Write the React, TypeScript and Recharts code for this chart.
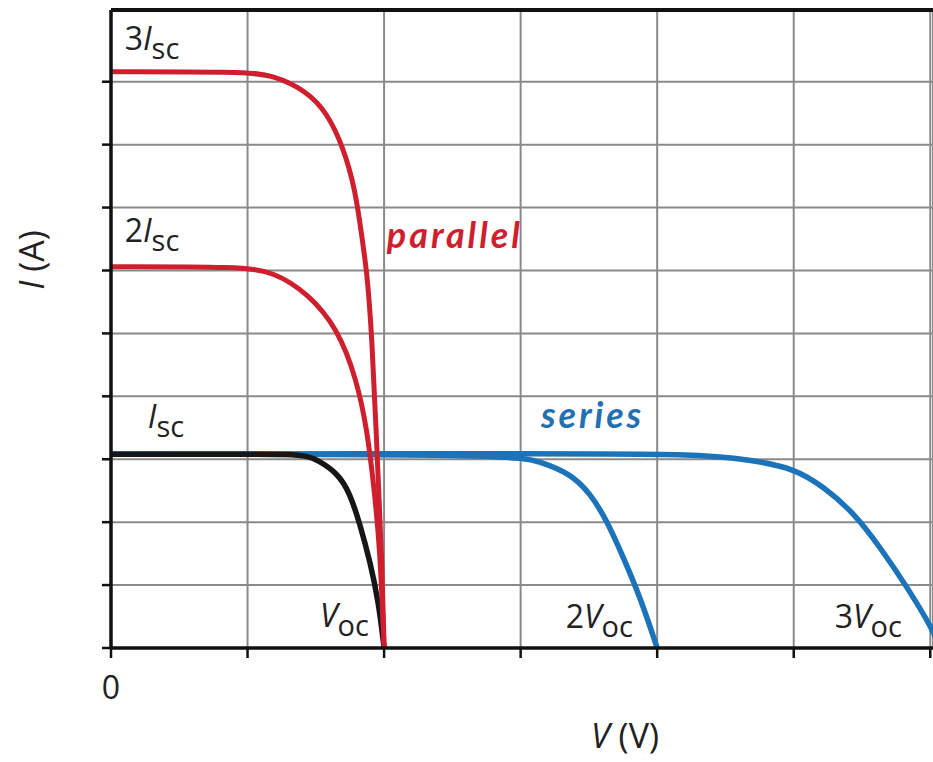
import { LineChart, Line, XAxis, YAxis, CartesianGrid, ReferenceLine, ReferenceDot } from "recharts"

// V in units where Voc = 2 grid steps, I in grid steps (Isc ≈ 3.08)
const X_MAX = 6.02
const Y_MAX = 10.14
const xTicks = [0, 1, 2, 3, 4, 5, 6]
const yTicks = [0, 1, 2, 3, 4, 5, 6, 7, 8, 9]

// single cell (black)
const singleV = [0, 1.0, 1.31, 1.44, 1.51, 1.66, 1.75, 1.82, 1.9, 1.96, 2.0]
const singleI = [3.08, 3.08, 3.08, 3.05, 2.99, 2.78, 2.46, 1.99, 1.35, 0.72, 0]

// parallel, 2 cells (red)
const par2V = [0, 0.95, 1.19, 1.44, 1.66, 1.8, 1.875, 1.92, 1.97, 2.0]
const par2I = [6.06, 6.06, 5.98, 5.64, 5.08, 4.26, 3.47, 2.67, 1.61, 0]

// parallel, 3 cells (red)
const par3V = [0, 0.95, 1.19, 1.44, 1.58, 1.7, 1.79, 1.84, 1.875, 1.91, 1.95, 1.985, 2.0]
const par3I = [9.16, 9.16, 9.11, 8.84, 8.51, 7.97, 7.28, 6.49, 5.96, 5.01, 3.04, 1.35, 0]

// series, 2 cells (blue)
const ser2V = [0, 2.95, 3.14, 3.36, 3.51, 3.63, 3.75, 3.875, 4.0]
const ser2I = [3.08, 3.08, 2.96, 2.78, 2.46, 2.03, 1.45, 0.81, 0]

// series, 3 cells (blue)
const ser3V = [0, 3.0, 4.31, 4.68, 5.0, 5.22, 5.44, 5.63, 5.83, 6.02, 6.07]
const ser3I = [3.08, 3.09, 3.09, 2.99, 2.86, 2.56, 2.15, 1.61, 0.97, 0.29, 0]

const pts = (vs: number[], is: number[]) => vs.map((v, k) => ({ v, i: is[k] }))

const RED = "#cf1f2e"
const BLUE = "#1b74ba"
const INK = "#222222"
const FONT = "'Open Sans', Lato, sans-serif"
const WORD_FONT = "Lato, 'Open Sans', sans-serif"

const subLabel = (pre: string, sym: string, sub: string) => (props: any) => (
  <text x={props.cx} y={props.cy} fill={INK} fontFamily={FONT} fontSize={32}>
    {pre && <tspan>{pre}</tspan>}
    <tspan fontStyle="italic">{sym}</tspan>
    <tspan dy={9} fontSize={29}>{sub}</tspan>
  </text>
)

const wordLabel = (word: string, color: string, len: number) => (props: any) => (
  <text
    x={props.cx}
    y={props.cy}
    fill={color}
    fontFamily={WORD_FONT}
    fontSize={36}
    fontWeight="bold"
    fontStyle="italic"
    textLength={len}
    lengthAdjust="spacing"
  >
    {word}
  </text>
)

const App = () => {
  return (
    <div style={{ position: "absolute", left: 0, top: 0, background: "#fff" }}>
      <LineChart width={933} height={762} margin={{ top: 10, right: 0, bottom: 0, left: 0 }}>
        <CartesianGrid stroke="#8a8a8a" strokeWidth={2} />
        <XAxis
          type="number"
          dataKey="v"
          domain={[0, X_MAX]}
          ticks={xTicks}
          allowDataOverflow
          height={114}
          stroke="#111"
          axisLine={{ stroke: "#111", strokeWidth: 3.5 }}
          tickLine={{ stroke: "#111", strokeWidth: 2.5 }}
          tickSize={10}
          tickMargin={18}
          tickFormatter={(v) => (v === 0 ? "0" : "")}
          tick={{ fontSize: 32, fill: INK, fontFamily: FONT }}
          label={{
            content: () => (
              <text x={625} y={748} textAnchor="middle" fill={INK} fontFamily={FONT} fontSize={34}>
                <tspan fontStyle="italic">V</tspan>
                <tspan> (V)</tspan>
              </text>
            ),
          }}
        />
        <YAxis
          type="number"
          dataKey="i"
          domain={[0, Y_MAX]}
          ticks={yTicks}
          allowDataOverflow
          width={111}
          axisLine={{ stroke: "#111", strokeWidth: 3.5 }}
          tickLine={{ stroke: "#111", strokeWidth: 2.5 }}
          tickSize={9}
          tickFormatter={() => ""}
          label={{
            content: () => (
              <text
                x={44}
                y={260}
                transform="rotate(-90 44 260)"
                textAnchor="middle"
                fill={INK}
                fontFamily={FONT}
                fontSize={34}
              >
                <tspan fontStyle="italic">I</tspan>
                <tspan> (A)</tspan>
              </text>
            ),
          }}
        />
        <ReferenceLine y={Y_MAX} stroke="#111" strokeWidth={4} />

        <Line data={pts(ser3V, ser3I)} dataKey="i" type="basis" stroke={BLUE} strokeWidth={5.5} dot={false} isAnimationActive={false} />
        <Line data={pts(ser2V, ser2I)} dataKey="i" type="basis" stroke={BLUE} strokeWidth={5.5} dot={false} isAnimationActive={false} />
        <Line data={pts(singleV, singleI)} dataKey="i" type="basis" stroke="#161616" strokeWidth={5.5} dot={false} isAnimationActive={false} />
        <Line data={pts(par2V, par2I)} dataKey="i" type="basis" stroke={RED} strokeWidth={5} dot={false} isAnimationActive={false} />
        <Line data={pts(par3V, par3I)} dataKey="i" type="basis" stroke={RED} strokeWidth={5} dot={false} isAnimationActive={false} />

        <ReferenceDot x={0.1} y={9.51} r={0} shape={subLabel("3", "I", "sc")} />
        <ReferenceDot x={0.1} y={6.45} r={0} shape={subLabel("2", "I", "sc")} />
        <ReferenceDot x={0.27} y={3.5} r={0} shape={subLabel("", "I", "sc")} />
        <ReferenceDot x={1.53} y={0.33} r={0} shape={subLabel("", "V", "oc")} />
        <ReferenceDot x={3.33} y={0.32} r={0} shape={subLabel("2", "V", "oc")} />
        <ReferenceDot x={5.3} y={0.32} r={0} shape={subLabel("3", "V", "oc")} />
        <ReferenceDot x={2.02} y={6.36} r={0} shape={wordLabel("parallel", RED, 133)} />
        <ReferenceDot x={3.15} y={3.5} r={0} shape={wordLabel("series", "#2270b2", 100)} />
      </LineChart>
    </div>
  )
}

export default App
